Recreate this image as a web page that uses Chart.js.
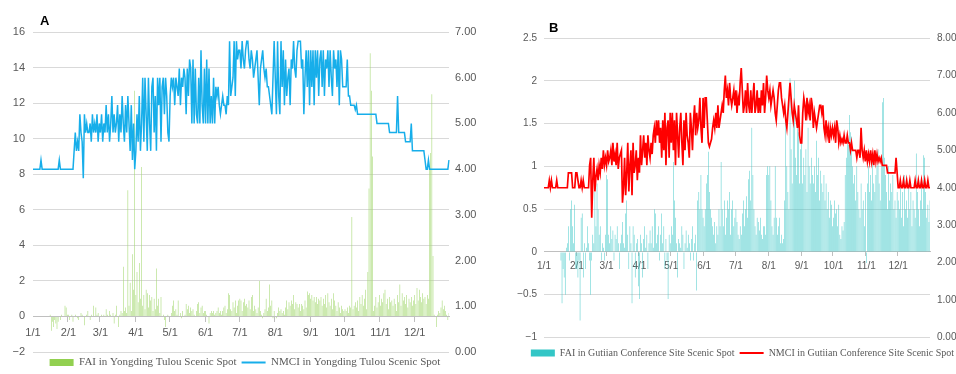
<!DOCTYPE html>
<html><head><meta charset="utf-8">
<script src="https://cdn.jsdelivr.net/npm/chart.js@4.4.1/dist/chart.umd.min.js"></script>
<style>
html,body{margin:0;padding:0;background:#fff;}
#wrap{position:relative;width:956px;height:374px;overflow:hidden;background:#fff;}
canvas{position:absolute;top:0;}
#cA{left:0;}
#cB{left:490px;}
.lbl{position:absolute;font-family:"Liberation Sans",Arial,sans-serif;font-weight:bold;color:#000;}
</style></head><body>
<div id="wrap">
<canvas id="cA" width="490" height="374"></canvas>
<canvas id="cB" width="505" height="374"></canvas>
<div class="lbl" style="left:40px;top:14px;font-size:13px;line-height:13px">A</div>
<div class="lbl" style="left:549px;top:21px;font-size:13px;line-height:13px">B</div>
</div>
<script>
// ---------- data ----------
const monthDays = [31,28,31,30,31,30,31,31,30,31,30,31];
const monthTicks = ['1/1','2/1','3/1','4/1','5/1','6/1','7/1','8/1','9/1','10/1','11/1','12/1'];

// Panel A: Yongding Tulou (FAI left axis, NMCI right axis), daily values 1/1 .. 12/31
const faiA = [
 0,0,0,0,0,0,0,0,0,0, 0,0,0,0,0,0.1,-0.8,-0.3,-0.6,-0.2, -0.4,-0.7,-0.3,0,-0.2,0.1,0,0,0.6,0.5, 0.1,
 0.1,-0.2,0,0.1,-0.3, 0,0.1,0,-0.1,-0.2, 0,0.2,0.1,0,-0.5, 0,0.1,0.3,0,-0.2, 0.1,0,0.6,0,0.5, 0.1,0.2,0,
 0,0.1,0,0.1,0,0.4,0.1,0,0.3,0.1, 0,0.2,-0.4,0.1,0.6,0,-0.6,0.1,0.3,0.2, 2.8,0.3,0.5,0.2,7.1,0.6,1.9,0.3,3.5,1.5, 12.7,
 1.2,2.5,0.8,3.0,1.0,8.4,0.6,1.2,0.4,1.5, 1.3,0.5,1.2,0.9,1.1,0.3,1.0,0.4,2.7,0.6, 1.0,0.2,1.1,0,0.1,-0.2,-0.6,0,0.1,0,
 0,0.2,0.6,0.9,0.3, 0.4,0.1,0.9,0,0.2, -0.1,0.3,0,0.1,0.7, 0.4,0.6,0.2,0.5,0.3, 0.4,0.1,0,0.3,0.7, 0.8,0.2,0.5,0.6,0.2, 0.3,
 0.3,0.1,0,-0.4,0.2, 0.3,0.2,0.3,0.1,0.2, 0.3,0.5,0.2,0.3,0.1, 0.3,0.5,0.6,0.2,0.4, 1.3,1.2,0.4,0.3,0.8, 0.5,0.9,0.2,0.6,0.9,
 1.0,0.9,0.3,0.8,1.0, 0.6,0.7,0.5,0.9,0.4, 1.1,1.2,0.3,0.6,0.4, 0.2,0.5,2.0,0.3,0.1, -0.1,0.2,0.4,1.0,0.3, 0.5,1.8,0.6,0.9,-0.1, 0.3,
 0,-0.1,0.2,0.5,0.3, 0.4,0.2,0.3,0.1,0.5, 0.9,0.4,0.8,0.6,0.9, 0.7,1.2,0.4,0.8,0.7, 0.5,0.7,0.3,0.7,0.6, 0.4,0.9,0.5,1.4,1.2, 1.3,
 1.0,1.2,0.9,1.1,0.8, 1.1,0.7,1.0,0.9,1.1, 0.6,1.0,0.7,1.2,0.5, 1.3,0.8,0.6,1.0,0.4, 1.3,0.9,0.6,0.3,0.8, 0.5,0.2,0.6,0.4,0.3,
 0.4,0.3,0.5,0.2,0.6,0.5, 5.6, 0.4,0.6,0.8,0.5,0.9,0.3,1.1,0.7,1.2,0.6,1.0,1.5,0.4, 2.5,7.2,14.8,12.7,9.0, 0.3,0.6,1.1,0.5,0.8,1.2,
 0.6,1.0,0.8,1.3,1.5, 0.7,1.0,0.4,1.1,0.8, 0.9,0.6,1.0,0.7,0.3, 1.2,0.8,1.8,0.6,1.3, 0.9,1.1,0.7,1.2,0.5, 1.0,0.8,1.1,0.6,0.9,
 1.2,0.7,1.6,0.9,1.5,1.1,0.8,1.3,1.0,1.1,0.7,1.2, 1.0, 8.3,9.2,12.5,3.4, 0.1,0,-0.6,0.1,0.3,0.2,0.5,0.9,0.4,0.6,0.3,0.1,-0.2,0.2
];
const nmciA = [
 4,4,4,4,4,4,4,4.2,4,4, 4,4,4,4,4,4,4,4,4,4, 4,4,4,4.2,4,4,4,4,4,4, 4,
 4,4,4,4,4, 4.4,4.8,4.4,4.6,4.4, 5.2,4.8,4.6,3.8,5.2, 4.8,5.0,4.8,4.8,5.0, 4.6,5.2,4.8,5.0,4.8, 5.2,4.6,5.0,
 4.8,5.2,4.6,5.0,4.8,5.4,4.8,5.2,4.6,5.0, 5.6,4.8,5.2,4.8,5.0,5.4,4.6,5.2,4.8,5.6, 5.0,4.6,5.4,4.8,5.6,5.0,4.4,5.4,4.2,5.0, 4.0,
 4.4,5.2,4.6,5.6,4.4,5.0,6.0,4.6,6.0,5.2, 4.4,6.0,5.0,4.4,5.8,6.0,4.8,5.6,4.4,6.0, 5.4,6.0,4.6,5.8,6.0,5.2,6.0,5.6,4.8,4.6,
 5.6,6.0,5.8,6.0,5.4,6.0,5.8,5.6,6.2,5.4, 6.0,5.8,6.2,6.0,5.2,6.2,5.6,6.4,6.2,5.0, 6.4,5.0,6.2,5.2,5.0,6.0,5.0,6.6,5.4,5.0, 6.2,
 5.0,6.4,5.0,6.2,5.0,5.6,5.0,6.0,5.0,5.8, 5.6,5.8,5.4,5.2,5.4,5.6,5.4,5.4,5.2,5.6, 5.4,6.8,5.6,5.8,6.0,6.8,5.6,6.8,6.4,6.6,
 6.6,6.2,6.8,6.4,6.2,6.6,6.8,6.8,6.4,6.2, 6.6,6.4,6.0,6.2,6.4,6.6,6.0,5.4,6.2,6.4, 6.6,6.2,6.0,6.2,5.8,5.8,5.6,5.4,5.2,6.0, 6.8,
 6.0,5.2,6.8,5.6,5.2,6.8,5.8,6.6,5.4,6.4, 5.6,6.0,6.2,5.4,6.4,6.2,6.8,6.2,6.0,6.6, 6.8,6.8,6.8,6.2,6.4,5.2,6.0,6.6,5.8,6.6, 5.4,
 6.6,5.8,6.6,5.4,6.6,6.0,6.6,5.6,6.4,6.6, 5.8,6.6,5.6,6.4,6.2,6.6,5.8,6.6,6.0,5.6, 6.6,6.2,6.4,5.8,6.6,5.4,6.6,6.4,5.8,5.8,
 5.8,5.8,6.4,5.6,5.6,5.4,5.4,5.4,5.4,5.3, 5.4,5.2,5.2,5.2,5.2,5.2,5.2,5.2,5.2,5.2, 5.2,5.2,5.2,5.2,5.2,5.2,5.2,5.2,5.0,5.0, 5.0,
 5.0,5.0,5.0,5.0,5.0,5.0,5.0,5.0, 4.8,4.8,4.8,4.8,4.8,4.8,4.8, 5.6, 4.8,4.8,4.8,4.8,4.8,4.8, 4.6,4.6,4.6,4.6,4.6, 5.0, 4.4,4.4,
 4.4,4.4,4.4,4.4,4.4,4.4,4.4,4.4,4.4, 4.2,4.0,4.0,4.2, 4,4,4,4,4,4,4,4,4,4,4,4,4,4,4,4,4, 4.2
];

// Panel B: Gutian Conference Site (FAI left axis, NMCI right axis), daily values 1/1 .. 12/31
const faiB = [
 0,0,0,0,0,0,0,0,0,0, 0,0,0,0,0,0, -0.1,-0.6,-0.2,-0.3,-0.5,0.05,0.1,0.3,-0.1,0.5, 0.6,0.3,0.1,0.55,-0.2,
 -0.2,-0.3,-0.1,-0.8,0.4, 0.45,-0.3,0.1,-0.2,0.05, 0.3,0.1,-0.1,-0.5,-0.1, 0.2,0.1,0.7,0.3,0.8, 0.5,0.2,0.3,-0.1,0.1, 0.05,-0.1,0.2,
 0.9,0.85,0.2,0.1,0.3, 0.15,0.25,-0.1,0.2,0.15, 0.3,0.1,-0.2,0.1,0.2, 0.35,0.1,0.05,0.45,0.6, 0.2,-0.2,0.3,0.1,-0.6, 0.3,0.2,-0.3,0.1,0.15, -0.4,
 -0.55,0.2,0.1,-0.3,0.15, 0.3,0.05,0.2,-0.2,0.1, 0.25,0.1,0.3,0.05,0.5, 0.45,0.1,0.2,0.3,-0.1, 0.2,0.45,0.1,0.3,-0.2, 0.15,-0.1,-0.55,0.2,0.1,
 0.3,0.2,1.05,0.6,0.4, 0.1,-0.3,0.15,0.1,0.05, 0.3,0.2,-0.2,0.1,0.25, 0.05,0.2,0.1,-0.1,0.15, 0.3,-0.1,0.1,0.2,-0.45, 0.6,0.7,0.5,0.9,0.5, 0.4,
 0.3,0.5,0.8,0.9,1.17, 0.7,0.5,0.4,0.3,0.2, 0.35,0.1,0.3,0.2,0.5, 0.3,1.05,0.5,0.3,0.6, 0.2,0.4,0.6,0.5,0.7, 0.2,0.5,0.6,0.3,0.4,
 0.5,0.35,0.2,0.15,0.3, 0.2,0.45,0.6,0.3,0.5, 0.65,0.4,0.85,0.95,0.6, 1.45,0.9,0.5,0.3,0.2, 0.4,0.35,0.25,0.4,0.2, 0.15,0.3,0.3,0.2,0.9, 1.0,
 0.9,1.0,0.6,0.3,0.2, 0.4,1.0,0.4,0.2,0.3, 0.4,0.1,0.2,0.1,0.15, 0.6,1.55,1.0,0.7,0.5, 2.03,1.2,0.8,1.6,2.0, 1.1,0.9,1.5,1.4,0.8, 1.2,
 1.3,0.8,1.1,0.9,1.2, 0.7,1.45,1.0,0.8,1.1, 0.9,0.8,1.0,0.7,1.3, 0.9,1.1,0.6,0.95,0.8, 0.7,0.9,0.6,0.8,0.5, 0.7,0.4,0.6,0.55,0.3,
 0.4,0.6,0.45,0.5,0.3, 0.55,0.2,0.15,0.3,0.25, 0.35,0.9,1.1,1.3,1.25, 1.6,1.4,1.35,1.0,0.8, 0.9,0.6,1.0,0.7,0.5, 0.4,0.8,0.5,0.6,0.3, 0.7,
 -0.13,0.8,1.0,0.7,0.9, 0.6,1.15,0.8,0.7,0.9, 1.0,1.2,0.8,0.6,1.0, 1.75,1.8,1.1,0.9,0.7, 0.5,1.0,0.6,0.8,0.7, 0.9,0.5,0.6,0.4,0.7,
 0.6,0.5,0.8,0.4,0.7, 0.3,0.9,0.5,0.6,0.4, 0.8,0.5,0.7,0.3,0.6, 0.5,0.4,1.15,0.7,0.5, 0.3,0.6,0.8,0.5,1.13,1.1, 0.7,0.4,0.55,0.35,0.6
];
const nmciB = [
 4,4,4,4,4,4.2,4,4.2,4,4, 4,4,4.2,4,4,4,4,4,4,4, 4,4,4,4.4,4.4,4.4,4.4,4,4,4, 4.4,
 4.4,4.2,4,4,4.2,4,4.2, 4,4,4,4,4, 4.6,4.8,3.2,4.2,4.8,3.9,4.3,4.5,4.2,4.6,4.4,4.8,4.5,5.0,4.6,4.8,
 4.6,5.0,4.7,4.8,5.0,4.6,5.2,4.7,4.9,4.6, 5.2,4.5,4.8,4.9,5.0,3.6,4.0,4.8,3.8,4.4, 5.2,3.9,4.6,5.0,3.8,5.2,4.4,4.6,5.0,4.2, 4.8,
 4.4,5.4,4.6,5.0,5.4,4.8,5.2,4.6,5.4,5.0, 4.8,5.2,4.9,5.4,5.6,5.2,5.8,5.4,5.8,5.2, 5.6,4.8,5.8,5.0,6.0,4.6,5.6,5.8,4.8,6.0,
 5.2,6.0,5.0,5.8,4.6,6.0,5.4,4.8,5.6,6.0, 5.2,4.6,5.8,5.0,6.0,5.4,5.2,4.8,6.0,5.6, 5.0,5.8,6.2,5.4,6.0,5.6,5.8,6.4,5.6,5.2, 6.4,
 5.6,6.4,6.4,5.8,5.2,5.1,5.2,5.3,5.6,5.8, 5.6,6.0,5.6,6.2,5.6,5.8,6.0,6.2,6.0,6.6, 7.0, 6.4,6.6,6.2,6.8,6.4,6.2,6.4,6.6,6.2,
 6.6,6.0,6.4,6.2,6.8,7.2,6.6,6.0,6.2,6.6, 6.0,6.8,6.2,6.0,6.6,6.0,6.4,6.8,6.0,6.2, 6.6,6.0,6.4,6.0,6.6,6.2,6.8,6.0,6.4,7.0, 6.6,
 6.4,6.6,6.2,6.4,6.6,6.4,6.0,5.8,6.2,6.6, 6.8,6.8,6.4,6.2,6.0,6.2,5.8,5.6,6.0,6.4, 6.8,6.4,6.0,5.8,6.2,6.0,5.8,5.6,6.2,5.4, 5.2,
 5.2,6.0,6.4,6.2,5.8,6.4,6.0,6.2,5.8,6.4, 6.2,5.6,6.0,5.8,5.6,5.8,6.0,6.2,6.2,6.0, 6.2,5.6,5.4,5.8,5.4,5.6,5.2,5.6,5.4,5.6,
 5.4,5.6,5.2,5.8,5.6,5.2,5.4,5.2,5.3,5.2, 5.4,5.2,5.2,5.4,5.2,5.2,5.0,5.2,5.0,5.0, 5.0,5.0,4.8,5.0,5.0,4.8,5.6,5.0,4.8,5.0, 4.7,
 5.0,4.7,4.9,4.7,5.0,4.7,4.9,4.6,5.0,4.7, 4.9,4.7,4.8,4.7,4.8, 4.6,4.6,4.6,4.6,4.6, 4.4,4.4,4.4,4.4,4.4,4.4,4.4,4.4, 4.8, 4.4,
 4.0,4.0,4.2,4.0,4.0,4.2,4.0,4.0,4.2,4.0, 4.0,4.2,4.0,4.0,4.0,4.0,4.2,4.0,4.0,4.2, 4.0,4.0,4.2,4.0,4.0,4.2,4.0,4.0,4.2,4.0, 4.0
];

[['faiA',faiA],['nmciA',nmciA],['faiB',faiB],['nmciB',nmciB]].forEach(([n,a]) => {
  if (a.length !== 365) throw new Error(n + ' has ' + a.length + ' values');
});

// category labels: one per day
const dayLabels = [];
monthDays.forEach((n, m) => { for (let d = 1; d <= n; d++) dayLabels.push((m + 1) + '/' + d); });
const isMonthStart = i => monthTicks.indexOf(dayLabels[i]) >= 0;

const tickGray = '#595959';
const gridGray = '#d9d9d9';
const minus = v => (v < 0 ? '\u2212' + Math.abs(v) : String(v));

function legendLabels(chart) {
  return chart.data.datasets.map((ds, i) => ({
    text: ds.label,
    datasetIndex: i,
    fillStyle: ds.type === 'line' ? 'rgba(0,0,0,0)' : ds.legendColor,
    strokeStyle: ds.type === 'line' ? ds.borderColor : ds.legendColor,
    lineWidth: ds.type === 'line' ? 2 : 0,
    pointStyle: ds.type === 'line' ? 'line' : 'rect',
    fontColor: tickGray,
    hidden: false
  }));
}

function build(canvasId, cfg) {
  return new Chart(document.getElementById(canvasId), {
    type: 'bar',
    data: {
      labels: dayLabels,
      datasets: [
        { type: 'bar', label: cfg.faiLabel, data: cfg.fai, backgroundColor: cfg.barColor, legendColor: cfg.legendColor,
          yAxisID: 'y', order: 2, barPercentage: cfg.barPct, categoryPercentage: 1, borderWidth: 0 },
        { type: 'line', label: cfg.nmciLabel, data: cfg.nmci, borderColor: cfg.lineColor,
          borderWidth: cfg.lineW, pointRadius: 0, pointHoverRadius: 0, tension: 0, fill: false,
          yAxisID: 'y1', order: 1 }
      ]
    },
    options: {
      responsive: false, animation: false, devicePixelRatio: 1, events: [],
      layout: { padding: cfg.padding },
      plugins: {
        tooltip: { enabled: false },
        legend: {
          position: 'bottom',
          title: cfg.legendTitle,
          labels: {
            usePointStyle: true, pointStyleWidth: 24, boxHeight: 7,
            padding: 5, color: tickGray,
            font: { family: '"Liberation Serif", "Times New Roman", serif', size: cfg.legendFont },
            generateLabels: legendLabels
          }
        }
      },
      scales: {
        x: {
          type: 'category', offset: false, position: { y: 0 },
          grid: { display: true, drawOnChartArea: false, drawTicks: true, tickLength: cfg.tickLen,
                  color: c => isMonthStart(c.index) ? '#bfbfbf' : 'rgba(0,0,0,0)' },
          border: { display: true, color: '#bfbfbf', width: 1 },
          ticks: { autoSkip: false, maxRotation: 0, minRotation: 0, padding: cfg.xPad,
                   color: tickGray, font: { family: '"Liberation Sans", Arial, sans-serif', size: cfg.tickFont },
                   callback: (v, i) => isMonthStart(i) ? dayLabels[i] : '' }
        },
        y: {
          position: 'left', min: cfg.yMin, max: cfg.yMax,
          grid: { color: gridGray, lineWidth: 1, drawTicks: false },
          border: { display: false },
          ticks: { stepSize: cfg.yStep, padding: cfg.yPad, color: tickGray,
                   font: { family: '"Liberation Sans", Arial, sans-serif', size: cfg.tickFont },
                   callback: v => minus(v) },
          afterFit: s => { s.width = cfg.leftW; }
        },
        y1: {
          position: 'right', min: 0, max: cfg.y1Max,
          grid: { display: false, drawTicks: false },
          border: { display: false },
          ticks: { stepSize: 1, padding: cfg.y1Pad, color: tickGray,
                   font: { family: '"Liberation Sans", Arial, sans-serif', size: cfg.tickFont },
                   callback: v => Number(v).toFixed(2) },
          afterFit: s => { s.width = cfg.rightW; }
        }
      }
    }
  });
}

build('cA', {
  faiLabel: 'FAI in Yongding Tulou Scenic Spot',
  nmciLabel: 'NMCI in Yongding Tulou Scenic Spot',
  fai: faiA, nmci: nmciA, barColor: '#a5d873', legendColor: '#92d050', lineColor: '#17aeea', barPct: 0.5, lineW: 1.5,
  padding: { top: 32, bottom: -4, left: 0, right: 0 },
  legendTitle: { display: false }, legendFont: 11,
  tickLen: 5, xPad: 5, tickFont: 11,
  yMin: -2, yMax: 16, yStep: 2, yPad: 8, leftW: 33,
  y1Max: 7, y1Pad: 6, rightW: 41
});

build('cB', {
  faiLabel: 'FAI in Gutiian Conference Site Scenic Spot',
  nmciLabel: 'NMCI in Gutiian Conference Site Scenic Spot',
  fai: faiB, nmci: nmciB, barColor: '#3cc6c6', legendColor: '#33c6c6', lineColor: '#ff0000', barPct: 0.45, lineW: 1.7,
  padding: { top: 38, bottom: 6, left: 0, right: 0 },
  legendTitle: { display: true, text: '', font: { size: 1 }, padding: { top: 4.3, bottom: 0 } }, legendFont: 10,
  tickLen: 4, xPad: 4, tickFont: 10,
  yMin: -1, yMax: 2.5, yStep: 0.5, yPad: 7, leftW: 54,
  y1Max: 8, y1Pad: 7, rightW: 65
});
</script>
</body></html>
